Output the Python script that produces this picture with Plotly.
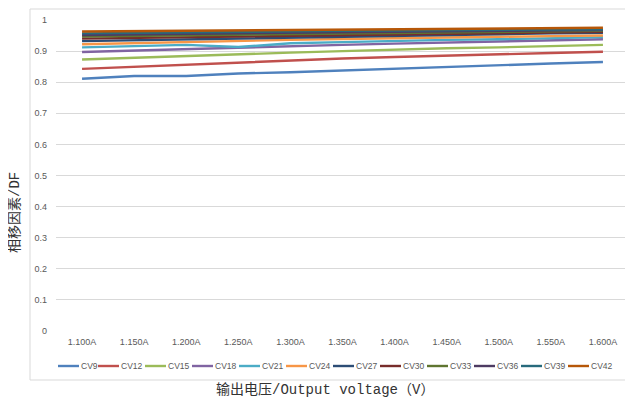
import plotly.graph_objects as go

categories = ["1.100A", "1.150A", "1.200A", "1.250A", "1.300A", "1.350A",
              "1.400A", "1.450A", "1.500A", "1.550A", "1.600A"]

cv9  = [0.811, 0.820, 0.820, 0.828, 0.832, 0.838, 0.843, 0.850, 0.855, 0.860, 0.865]
cv12 = [0.843, 0.850, 0.857, 0.864, 0.869, 0.876, 0.881, 0.886, 0.890, 0.894, 0.898]
cv15 = [0.873, 0.879, 0.885, 0.891, 0.895, 0.900, 0.905, 0.909, 0.912, 0.916, 0.920]
cv18 = [0.897, 0.902, 0.907, 0.912, 0.916, 0.920, 0.924, 0.928, 0.931, 0.934, 0.938]
cv21 = [0.912, 0.916, 0.920, 0.913, 0.925, 0.929, 0.933, 0.936, 0.938, 0.941, 0.945]
cv24 = [0.922, 0.926, 0.930, 0.933, 0.936, 0.939, 0.942, 0.944, 0.946, 0.948, 0.950]
cv27 = [0.932, 0.935, 0.938, 0.941, 0.944, 0.947, 0.950, 0.953, 0.955, 0.957, 0.959]
cv30 = [0.940, 0.942, 0.945, 0.947, 0.950, 0.952, 0.954, 0.956, 0.958, 0.960, 0.962]
cv33 = [0.947, 0.949, 0.951, 0.953, 0.955, 0.957, 0.959, 0.961, 0.962, 0.964, 0.965]
cv36 = [0.952, 0.954, 0.956, 0.958, 0.959, 0.961, 0.962, 0.964, 0.965, 0.966, 0.968]
cv39 = [0.957, 0.959, 0.960, 0.962, 0.963, 0.965, 0.966, 0.967, 0.968, 0.969, 0.970]
cv42 = [0.963, 0.964, 0.966, 0.967, 0.968, 0.969, 0.970, 0.971, 0.972, 0.973, 0.975]

series_names = ["CV9", "CV12", "CV15", "CV18", "CV21", "CV24",
                "CV27", "CV30", "CV33", "CV36", "CV39", "CV42"]
series_values = [cv9, cv12, cv15, cv18, cv21, cv24, cv27, cv30, cv33, cv36, cv39, cv42]
colors = ["#4F81BD", "#C0504D", "#9BBB59", "#8064A2", "#4BACC6", "#F79646",
          "#2C4D75", "#772C2A", "#5F7530", "#4D3B62", "#276A7C", "#B65708"]

y_title = "相移因素/DF"
x_title = "输出电压/Output voltage（V）"

# the page body adds an 8px margin; work in screen pixels and shift
OFF = 8
W, H = 633 - OFF, 401 - OFF
# screen-pixel plot box
SX0, SX1, SY0, SY1 = 56, 629, 20, 331
L = SX0 - OFF
R = W - (SX1 - OFF)
T = SY0 - OFF
B = H - (SY1 - OFF)
PW = SX1 - SX0
PH = SY1 - SY0

def px_x(p):
    return (p - SX0) / PW

def px_y(p):
    return (SY1 - p) / PH

fig = go.Figure()
for name, vals, col in zip(series_names, series_values, colors):
    fig.add_trace(go.Scatter(x=categories, y=vals, mode="lines", name=name,
                             line=dict(color=col, width=2.4), showlegend=False))

shapes = []
annotations = []

# custom legend
x0 = 58
ly = 366
for name, col in zip(series_names, colors):
    shapes.append(dict(type="line", xref="paper", yref="paper",
                       x0=px_x(x0), x1=px_x(x0 + 21), y0=px_y(ly), y1=px_y(ly),
                       line=dict(color=col, width=2.4)))
    annotations.append(dict(text=name, xref="paper", yref="paper",
                            x=px_x(x0 + 22), y=px_y(ly), xanchor="left", yanchor="middle",
                            showarrow=False, borderpad=0,
                            font=dict(size=8.5, color="#595959",
                                      family="Liberation Sans")))
    x0 += 40 if len(name) == 3 else 47

# chart border
shapes.append(dict(type="rect", xref="paper", yref="paper",
                   x0=px_x(30), x1=px_x(628), y0=px_y(9), y1=px_y(380),
                   line=dict(color="#d9d9d9", width=1)))

annotations.append(dict(text=x_title, xref="paper", yref="paper",
                        x=px_x(325), y=px_y(390), xanchor="center", yanchor="middle",
                        showarrow=False,
                        font=dict(size=14, color="#333333",
                                  family="Liberation Mono, Noto Sans CJK SC")))
annotations.append(dict(text=y_title, xref="paper", yref="paper",
                        x=px_x(15), y=px_y(213), xanchor="center", yanchor="middle",
                        textangle=-90, showarrow=False,
                        font=dict(size=14, color="#333333",
                                  family="Liberation Mono, Noto Sans CJK SC")))

fig.update_layout(
    width=W, height=H,
    margin=dict(l=L, r=R, t=T, b=B),
    paper_bgcolor="white", plot_bgcolor="white",
    showlegend=False,
    shapes=shapes, annotations=annotations,
    xaxis=dict(type="category", range=[-0.5, 10.5], showgrid=False, zeroline=False,
               showline=False, ticks="", tickfont=dict(size=9, color="#595959",
                                                      family="Liberation Sans"),
               ticklabelstandoff=4),
    yaxis=dict(range=[0, 1], tickvals=[i / 10 for i in range(11)],
               ticktext=["0", "0.1", "0.2", "0.3", "0.4", "0.5", "0.6", "0.7", "0.8", "0.9", "1"],
               showgrid=True, gridcolor="#d9d9d9", gridwidth=1, zeroline=False,
               showline=False, ticks="",
               tickfont=dict(size=9, color="#595959", family="Liberation Sans"),
               ticklabelstandoff=8),
)

fig.write_html("out.html")
